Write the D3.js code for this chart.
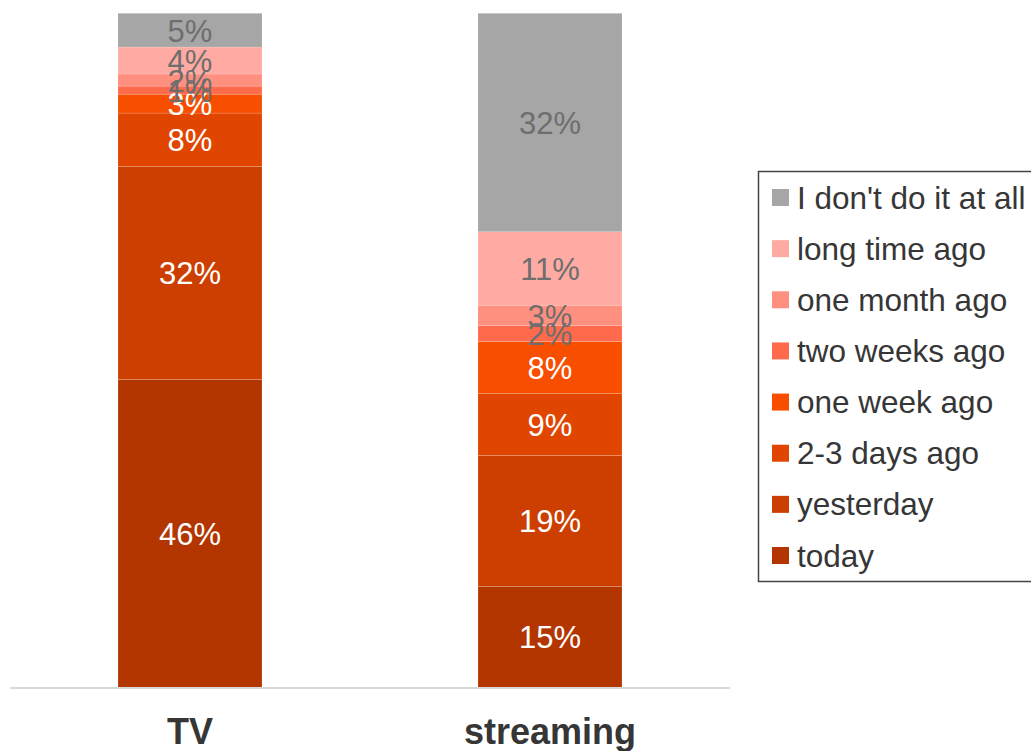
<!DOCTYPE html>
<html>
<head>
<meta charset="utf-8">
<script src="https://cdn.jsdelivr.net/npm/d3@7"></script>
<style>
  html, body { margin: 0; padding: 0; background: #fff; }
  svg { display: block; font-family: "Liberation Sans", Arial, sans-serif; }
</style>
</head>
<body>
<svg id="chart" width="1031" height="751"></svg>
<script>
// Media categories on the x axis
const categories = ["TV", "streaming"];

// Answer groups, stacked from the bottom up
const seriesNames = ["today", "yesterday", "2-3 days ago", "one week ago",
  "two weeks ago", "one month ago", "long time ago", "I don't do it at all"];

// Share of respondents (%) per answer group, one array per category
const tvValues        = [45.7, 31.6, 7.9, 2.8, 1.2, 1.8, 4.0, 5.0];
const streamingValues = [15.0, 19.4, 9.2, 7.7, 2.4, 3.0, 10.9, 32.4];

const seriesColors = ["#b33600", "#cd3f00", "#e04600", "#f74e00",
  "#ff6a4c", "#ff9080", "#ffaba4", "#a6a6a6"];
// Light segments carry grey labels, dark ones white
const labelColors = ["#ffffff", "#ffffff", "#ffffff", "#ffffff",
  "#6e6e6e", "#6e6e6e", "#6e6e6e", "#6e6e6e"];

const rows = categories.map((c, i) => {
  const vals = [tvValues, streamingValues][i];
  const row = { category: c };
  seriesNames.forEach((s, j) => row[s] = vals[j]);
  return row;
});

const svg = d3.select("#chart");

const x = d3.scaleBand()
  .domain(categories)
  .range([10, 730])
  .paddingInner(0.6)
  .paddingOuter(0.3);

const y = d3.scaleLinear()
  .domain([0, 100])
  .range([687.5, 13.3]);

const stacked = d3.stack().keys(seriesNames)(rows);

const layers = svg.append("g")
  .selectAll("g")
  .data(stacked)
  .join("g")
  .attr("fill", (d, i) => seriesColors[i]);

layers.selectAll("rect")
  .data(d => d)
  .join("rect")
  .attr("x", d => x(d.data.category))
  .attr("width", x.bandwidth())
  .attr("y", d => y(d[1]))
  .attr("height", d => y(d[0]) - y(d[1]))
  .attr("stroke", "rgba(255,255,255,0.25)")
  .attr("stroke-width", 0.6);

// Value labels centred in each segment
svg.append("g")
  .selectAll("g")
  .data(stacked)
  .join("g")
  .attr("fill", (d, i) => labelColors[i])
  .selectAll("text")
  .data(d => d)
  .join("text")
  .attr("x", d => x(d.data.category) + x.bandwidth() / 2)
  .attr("y", d => (y(d[0]) + y(d[1])) / 2 + 1)
  .attr("text-anchor", "middle")
  .attr("dominant-baseline", "central")
  .attr("font-size", 31)
  .text(d => Math.round(d[1] - d[0]) + "%");

// Category axis
const axis = svg.append("g")
  .attr("transform", "translate(0,688)")
  .call(d3.axisBottom(x).tickSize(0).tickPadding(0));
axis.select(".domain").attr("stroke", "#d9d9d9").attr("stroke-width", 2)
  .attr("d", "M10,0H730");
axis.selectAll(".tick text")
  .attr("y", 55.5)
  .attr("dy", 0)
  .attr("font-size", 36)
  .attr("font-weight", "bold")
  .attr("font-family", "Liberation Sans, Arial, sans-serif")
  .attr("fill", "#363636");

// Legend, top entry is the top of the stack
const legendItems = seriesNames.slice().reverse();
const legendColors = seriesColors.slice().reverse();
const legend = svg.append("g");
legend.append("rect")
  .attr("x", 758.5).attr("y", 171.5)
  .attr("width", 300).attr("height", 410)
  .attr("fill", "#fff")
  .attr("stroke", "#444").attr("stroke-width", 1.5);

const ly = d3.scalePoint().domain(legendItems).range([197.5, 555.5]);

const items = legend.selectAll("g.item")
  .data(legendItems)
  .join("g")
  .attr("class", "item")
  .attr("transform", d => `translate(772,${ly(d)})`);
items.append("rect")
  .attr("x", 0).attr("y", -8.5)
  .attr("width", 17).attr("height", 17)
  .attr("fill", (d, i) => legendColors[i]);
items.append("text")
  .attr("x", 25)
  .attr("y", 0)
  .attr("dominant-baseline", "central")
  .attr("font-size", 31.5)
  .attr("fill", "#363636")
  .text(d => d);
</script>
</body>
</html>
